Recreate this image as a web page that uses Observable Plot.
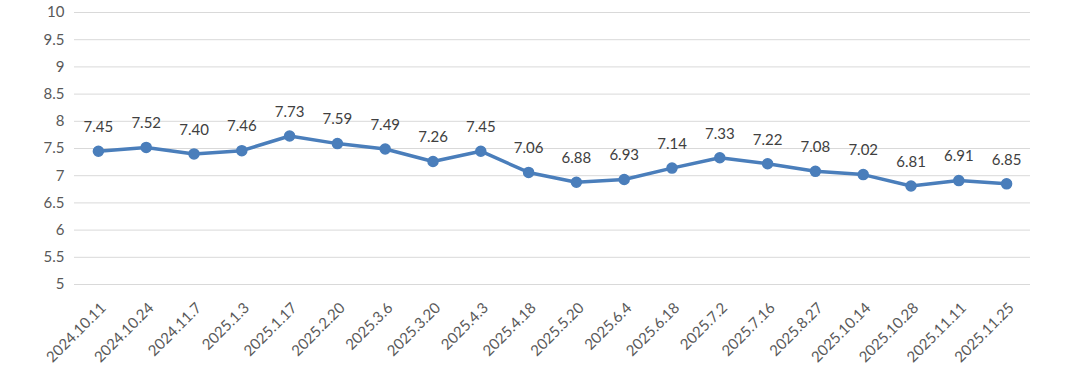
<!DOCTYPE html>
<html>
<head>
<meta charset="utf-8">
<script src="https://cdn.jsdelivr.net/npm/d3@7"></script>
<script src="https://cdn.jsdelivr.net/npm/@observablehq/plot@0.6"></script>
<style>
  html, body { margin: 0; padding: 0; background: #fff; }
  #chart svg { display: block; }
</style>
</head>
<body>
<div id="chart"></div>
<script>
const dates = ["2024.10.11","2024.10.24","2024.11.7","2025.1.3","2025.1.17","2025.2.20","2025.3.6","2025.3.20","2025.4.3","2025.4.18","2025.5.20","2025.6.4","2025.6.18","2025.7.2","2025.7.16","2025.8.27","2025.10.14","2025.10.28","2025.11.11","2025.11.25"];
const values = [7.45,7.52,7.40,7.46,7.73,7.59,7.49,7.26,7.45,7.06,6.88,6.93,7.14,7.33,7.22,7.08,7.02,6.81,6.91,6.85];
const yTicks = [5,5.5,6,6.5,7,7.5,8,8.5,9,9.5,10];

const data = dates.map((d, i) => ({date: d, value: values[i]}));
const font = "Lato, 'Open Sans', sans-serif";

const chart = Plot.plot({
  width: 1080,
  height: 371,
  marginLeft: 74,
  marginRight: 50,
  marginTop: 12,
  marginBottom: 87,
  style: {fontFamily: font, background: "#fff"},
  x: {type: "point", domain: dates, padding: 0.5, round: false},
  y: {domain: [5, 10]},
  marks: [
    Plot.gridY(yTicks, {stroke: "#d9d9d9", strokeOpacity: 1, strokeWidth: 1}),
    Plot.axisY(yTicks, {tickSize: 0, tickPadding: 10, fontSize: 15, fill: "#595959", label: null,
      tickFormat: d => String(d)}),
    Plot.axisX({tickSize: 0, tickPadding: 4, tickRotate: -45, fontSize: 15, fill: "#595959", label: null, dx: 5, dy: 17}),
    Plot.line(data, {x: "date", y: "value", stroke: "#4A7EBB", strokeWidth: 3.5, curve: "linear"}),
    Plot.dot(data, {x: "date", y: "value", r: 5, fill: "#4A7EBB", stroke: "#4A7EBB"}),
    Plot.text(data, {x: "date", y: "value", text: d => d.value.toFixed(2), dy: -24, fontSize: 15, fill: "#404040"})
  ]
});
document.getElementById("chart").appendChild(chart);
</script>
</body>
</html>
